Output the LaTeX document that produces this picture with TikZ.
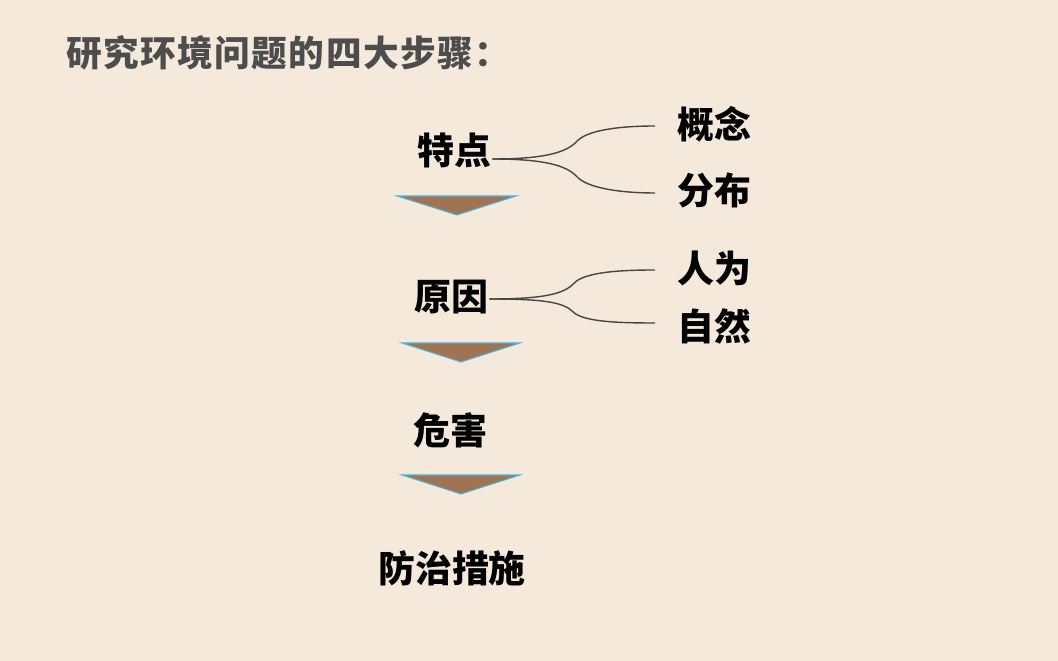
\documentclass[tikz,border=0pt]{standalone}
\usepackage{fontspec}
\newfontfamily\cjk{Noto Sans CJK SC}
\newfontfamily\cjkwide{Noto Sans CJK SC}[LetterSpace=4]
\usepackage{tikz}
\usetikzlibrary{calc}
\definecolor{paper}{RGB}{245,233,220}
\definecolor{titlegray}{RGB}{77,77,77}
\definecolor{arrowfill}{RGB}{160,116,82}
\definecolor{arrowedge}{RGB}{80,180,220}
\definecolor{forkgray}{RGB}{70,70,70}

\begin{document}
\begin{tikzpicture}[x=0.02cm, y=-0.02cm,
    stage/.style={font=\cjk\bfseries\fontsize{21}{25}\selectfont, inner sep=0pt},
    leaf/.style={font=\cjk\bfseries\fontsize{21}{25}\selectfont, inner sep=0pt, anchor=west},
    down/.style={fill=arrowfill, draw=arrowedge, line width=0.6pt, line join=miter},
    fork/.style={draw=forkgray, line width=0.8pt}]
  \fill[paper] (0,0) rectangle (1058,661);
  \useasboundingbox (0,0) rectangle (1058,661);

  \node[anchor=west, inner sep=0pt, text=titlegray,
    font=\cjkwide\bfseries\fontsize{20.3}{24}\selectfont] (title) at (66,53) {研究环境问题的四大步骤：};

  \node[stage] (trait) at (454,150) {特点};
  \node[stage] (cause) at (451,297) {原因};
  \node[stage] (harm) at (450,430) {危害};
  \node[stage] (cure) at (452,568) {防治措施};

  \node[leaf] (idea) at (677,124) {概念};
  \node[leaf] (spread) at (677,190) {分布};
  \node[leaf] (human) at (677,268) {人为};
  \node[leaf] (nature) at (677,326) {自然};

  % arrows between the stages
  \draw[down] (397,196) -- (516,196) -- (457,215) -- cycle;
  \draw[down] (402,343) -- (520,343) -- (461,362) -- cycle;
  \draw[down] (402,475) -- (520,475) -- (461,494) -- cycle;

  % forks
  \coordinate (f1) at ($(trait.east)+(1,9)$);
  \coordinate (f2) at ($(cause.east)+(1,2)$);
  \draw[fork] (f1) .. controls +(54,0) and +(-10,10) .. ($(f1)+(84,-17)$)
    .. controls +(10,-12) and +(-35,0) .. ($(idea.west)+(-22,2)$);
  \draw[fork] (f1) .. controls +(54,0) and +(-10,-10) .. ($(f1)+(84,17)$)
    .. controls +(10,12) and +(-35,0) .. ($(spread.west)+(-22,3)$);
  \draw[fork] (f2) .. controls +(54,0) and +(-10,10) .. ($(f2)+(84,-15)$)
    .. controls +(10,-12) and +(-35,0) .. ($(human.west)+(-22,2)$);
  \draw[fork] (f2) .. controls +(54,0) and +(-10,-10) .. ($(f2)+(84,13)$)
    .. controls +(10,10) and +(-35,0) .. ($(nature.west)+(-22,-3)$);
\end{tikzpicture}
\end{document}
